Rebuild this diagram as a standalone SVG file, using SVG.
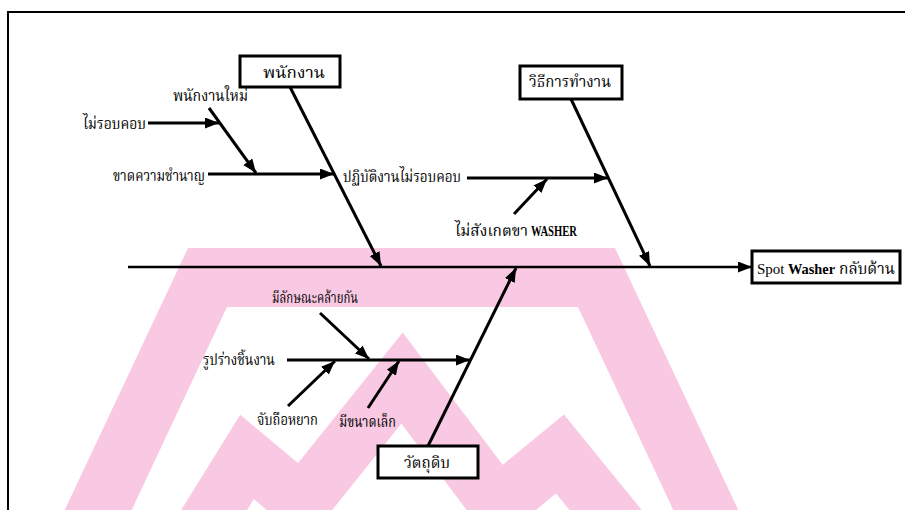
<svg xmlns="http://www.w3.org/2000/svg" width="905" height="510" viewBox="0 0 905 510">
  <style>
    .th { font-family: "Liberation Serif", "Noto Serif Thai", "Noto Sans Thai", serif; font-size: 15px; fill: #000; }
    .lat { font-family: "Liberation Serif", serif; font-size: 15px; fill: #000; }
    .b { font-weight: bold; }
    .box { fill: #fff; stroke: #000; stroke-width: 3; }
    .bone { fill: none; stroke: #000; stroke-width: 3; marker-end: url(#head); }
    .spine { fill: none; stroke: #000; stroke-width: 2.6; marker-end: url(#head); }
    .frame { fill: none; stroke: #000; stroke-width: 2; }
    .wm { fill: #f9c9e3; }
  </style>
  <defs>
    <marker id="head" markerUnits="userSpaceOnUse" markerWidth="15" markerHeight="12" refX="14" refY="5.5" orient="auto">
      <path d="M0,0 L14,5.5 L0,11 Z" fill="#000"/>
    </marker>
  </defs>

  <rect width="905" height="510" fill="#fff"/>

  <!-- background emblem -->
  <g id="emblem">
    <path class="wm" d="M60,520 L188,248 L615,248 L743,520 L678,520 L578,307 L227,307 L127,520 Z"/>
    <polyline points="180,565 247,457 302,503 402,378 498,505 560,454 630,540" fill="none" stroke="#f9c9e3" stroke-width="56" stroke-linejoin="miter" stroke-miterlimit="10"/>
  </g>

  <!-- page frame -->
  <path class="frame" d="M8,520 L8,12 L910,12"/>

  <g id="connectors">
    <path class="spine" d="M128,267 L752,267"/>
    <path class="bone" d="M290,87 L381,266"/>
    <path class="bone" d="M571,99 L650,266"/>
    <path class="bone" d="M428,446 L516,268"/>
    <path class="bone" d="M208,174 L334,174"/>
    <path class="bone" d="M209,108 L256,173"/>
    <path class="bone" d="M148,123 L219,123"/>
    <path class="bone" d="M467,178 L608,178"/>
    <path class="bone" d="M514,214 L547,179"/>
    <path class="bone" d="M287,360 L470,360"/>
    <path class="bone" d="M320,313 L369,359"/>
    <path class="bone" d="M288,406 L335,361"/>
    <path class="bone" d="M368,408 L399,361"/>
  </g>

  <g id="node-staff">
    <rect class="box" x="240" y="56" width="100" height="31"/>
    <text class="th" x="263" y="78" textLength="62" lengthAdjust="spacingAndGlyphs">พนักงาน</text>
  </g>
  <g id="node-method">
    <rect class="box" x="520" y="66" width="102" height="33"/>
    <text class="th" x="529" y="87" textLength="82" lengthAdjust="spacingAndGlyphs">วิธีการทำงาน</text>
  </g>
  <g id="node-material">
    <rect class="box" x="378" y="446" width="100" height="32"/>
    <text class="th" x="404" y="468" textLength="46" lengthAdjust="spacingAndGlyphs">วัตถุดิบ</text>
  </g>
  <g id="node-effect">
    <rect class="box" x="752" y="251" width="148" height="32"/>
    <text class="lat" x="757" y="274">Spot</text>
    <text class="lat b" x="788" y="274" textLength="47" lengthAdjust="spacingAndGlyphs">Washer</text>
    <text class="th" x="839" y="274" textLength="56" lengthAdjust="spacingAndGlyphs">กลับด้าน</text>
  </g>

  <g id="cause-new-staff">
    <text class="th" x="173" y="101" textLength="75" lengthAdjust="spacingAndGlyphs">พนักงานใหม่</text>
  </g>
  <g id="cause-careless">
    <text class="th" x="83" y="129" textLength="63" lengthAdjust="spacingAndGlyphs">ไม่รอบคอบ</text>
  </g>
  <g id="cause-inexperience">
    <text class="th" x="113" y="181" textLength="92" lengthAdjust="spacingAndGlyphs">ขาดความชำนาญ</text>
  </g>
  <g id="cause-careless-work">
    <text class="th" x="343" y="182" textLength="118" lengthAdjust="spacingAndGlyphs">ปฏิบัติงานไม่รอบคอบ</text>
  </g>
  <g id="cause-washer-legs">
    <text class="th" x="455" y="236" textLength="73" lengthAdjust="spacingAndGlyphs">ไม่สังเกตขา</text>
    <text class="lat b" x="531" y="236" font-size="13" textLength="46" lengthAdjust="spacingAndGlyphs">WASHER</text>
  </g>
  <g id="cause-similar">
    <text class="th" x="272" y="303" textLength="86" lengthAdjust="spacingAndGlyphs">มีลักษณะคล้ายกัน</text>
  </g>
  <g id="cause-shape">
    <text class="th" x="203" y="365" textLength="72" lengthAdjust="spacingAndGlyphs">รูปร่างชิ้นงาน</text>
  </g>
  <g id="cause-hard-grip">
    <text class="th" x="257" y="425" textLength="61" lengthAdjust="spacingAndGlyphs">จับถือหยาก</text>
  </g>
  <g id="cause-small">
    <text class="th" x="339" y="427" textLength="57" lengthAdjust="spacingAndGlyphs">มีขนาดเล็ก</text>
  </g>
</svg>
